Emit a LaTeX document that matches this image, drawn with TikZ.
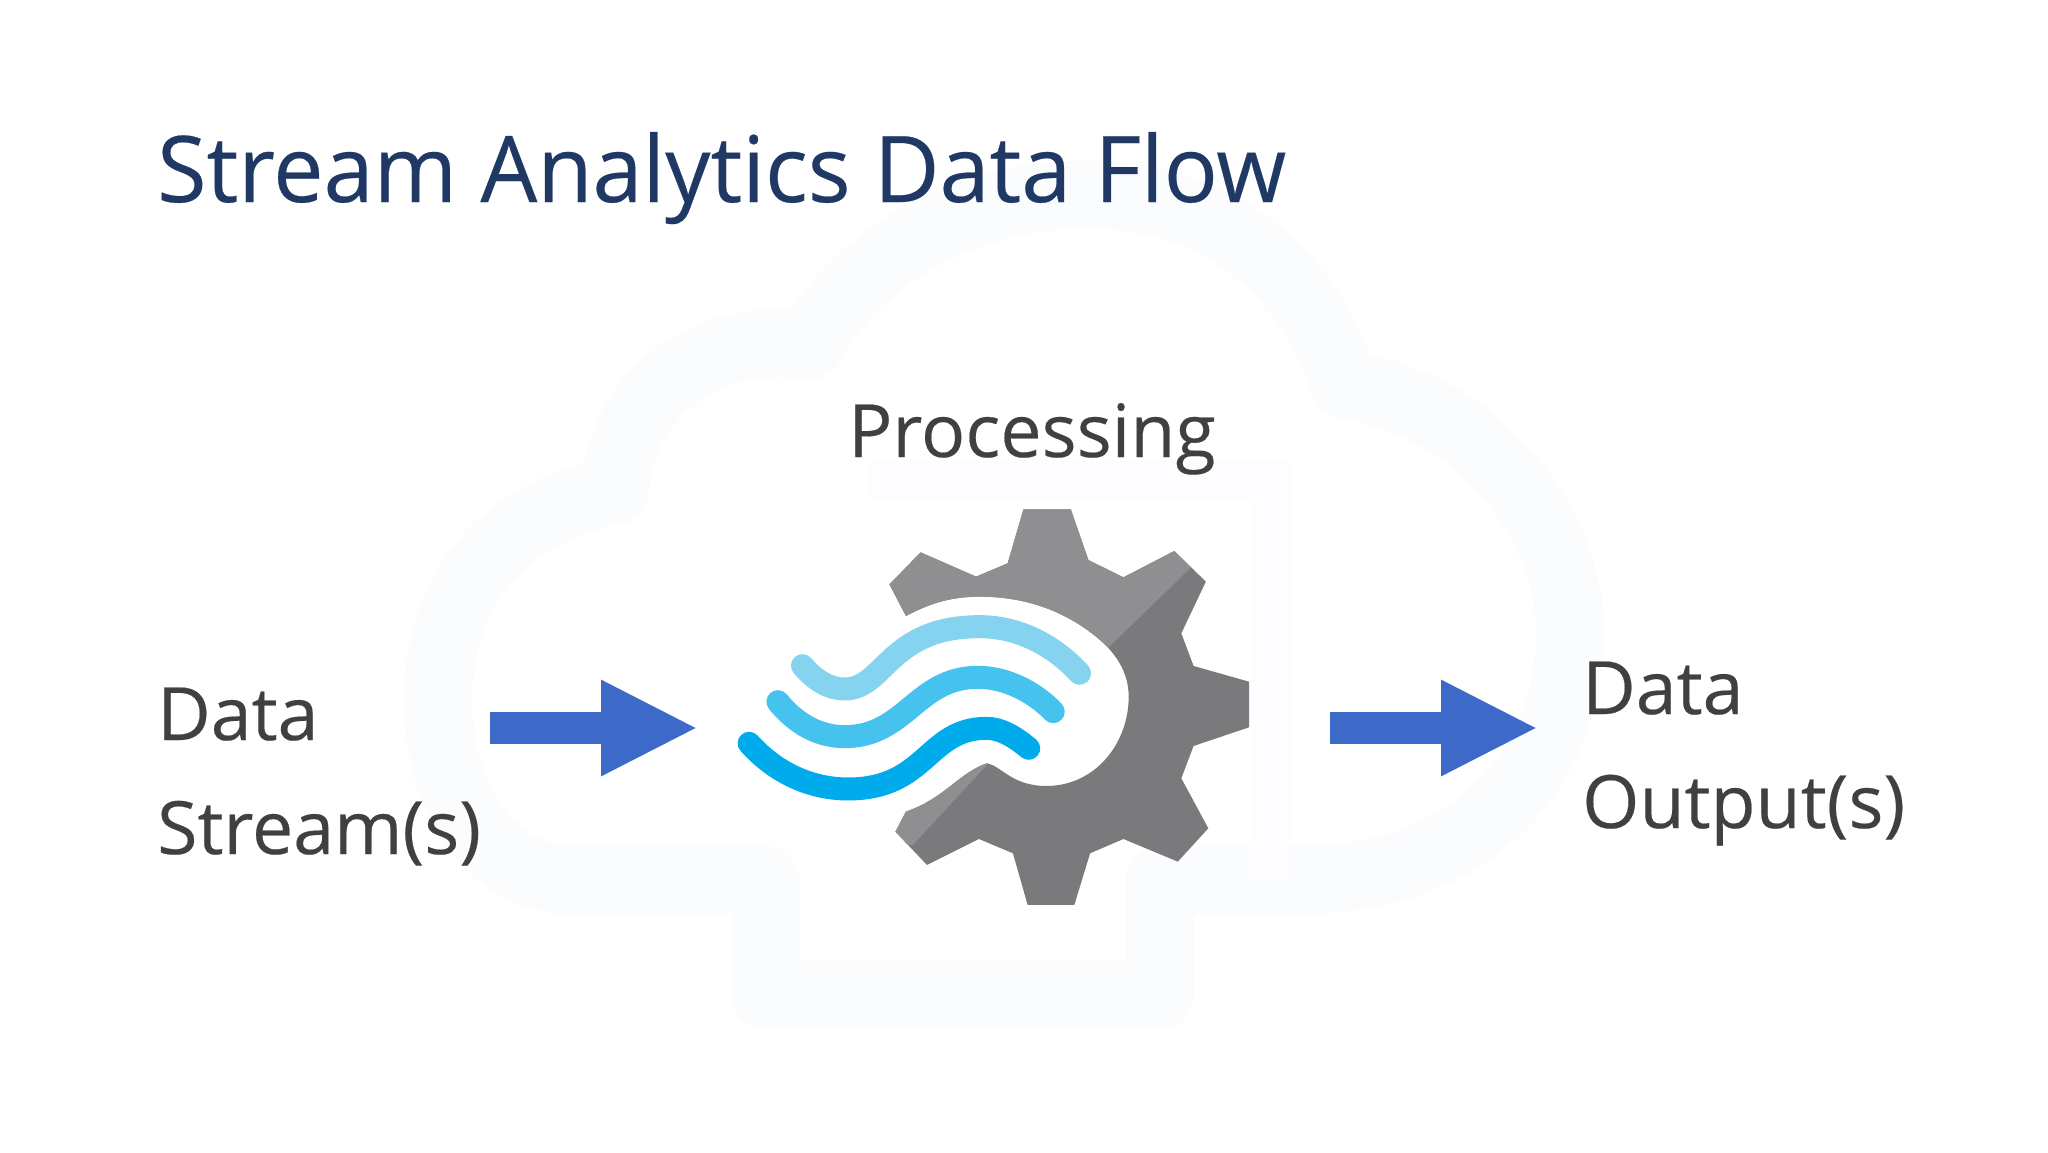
\documentclass[tikz,border=0pt]{standalone}
\usepackage{fontspec}
\setmainfont{Open Sans}
\usetikzlibrary{arrows.meta}
\definecolor{titleblue}{HTML}{1F3864}
\definecolor{labelgrey}{HTML}{404040}
\definecolor{arrowblue}{HTML}{3D69C8}
\definecolor{gearlight}{HTML}{8F8F91}
\definecolor{geardark}{HTML}{7A7A7C}
\definecolor{waveA}{HTML}{86D3EF}
\definecolor{waveB}{HTML}{45C2EE}
\definecolor{waveC}{HTML}{00ABEC}
\definecolor{ghost}{HTML}{FBFCFE}
\definecolor{ghostb}{HTML}{FDFDFF}
\tikzset{
  titletext/.style={anchor=base west,inner sep=0pt,text=titleblue,font=\addfontfeature{FakeStretch=0.977,FakeBold=0.25}\fontsize{92}{92}\selectfont},
  labeltext/.style={anchor=base west,inner sep=0pt,text=labelgrey,font=\addfontfeature{FakeBold=0.25}\fontsize{73.5}{74}\selectfont},
  flowarrow/.style={line width=32pt,draw=arrowblue,-{Triangle[length=97pt,width=89pt]}},
  wave/.style={line width=23pt,line cap=round,line join=round},
  ghostline/.style={draw=ghost,line width=68pt,line join=round}
}
\newcommand{\gearoutline}{
 (865,58)--(1000,58)--(1050,210)--(1150,262)--(1295,183)--(1385,275)--(1315,430)--(1350,528)--(1508,575)--(1508,712)--(1350,768)--(1315,865)--(1392,1015)--(1305,1115)--(1150,1047)--(1055,1090)--(1010,1245)--(877,1245)--(835,1090)--(738,1047)--(590,1125)--(500,1025)--(530,965)
 .. controls (640,925) and (680,850) .. (760,820)
 .. controls (800,825) and (830,888) .. (930,888)
 .. controls (1070,888) and (1165,760) .. (1165,620)
 .. controls (1165,530) and (1110,470) .. (1060,430)
 .. controls (960,350) and (850,320) .. (740,320)
 .. controls (650,320) and (590,345) .. (530,378)
 --(483,283)--(572,187)--(730,260)--(820,220)--cycle}
\begin{document}
\begin{tikzpicture}[x=1pt,y=-1pt]
\useasboundingbox (0,0) rectangle (2048,1152);
\fill[white] (0,0) rectangle (2048,1152);
% faint cloud watermark
\draw[ghostline] (765,880) -- (560,880) .. controls (450,860) and (432,740) .. (440,670)
  .. controls (450,570) and (520,510) .. (615,490)
  .. controls (620,400) and (700,330) .. (810,345)
  .. controls (860,250) and (980,190) .. (1100,195)
  .. controls (1230,200) and (1310,280) .. (1345,385)
  .. controls (1460,400) and (1560,500) .. (1570,620)
  .. controls (1575,760) and (1480,880) .. (1300,880) -- (1160,880)
  -- (1160,995) -- (765,995) -- cycle;
\draw[ghostb,line width=40pt] (870,480) -- (1270,480) -- (1270,880);
% gear
\begin{scope}[shift={(720,490)},x=0.3508pt,y=-0.3333pt]
  \fill[geardark] \gearoutline;
  \begin{scope}
    \clip (0,0) -- (1575,0) -- (1340,235) -- (1110,470) -- (900,700) -- (0,700) -- cycle;
    \fill[gearlight] \gearoutline;
  \end{scope}
  \begin{scope}
    \clip (765,820) -- (550,1065) -- (400,1065) -- (400,800) -- cycle;
    \fill[gearlight] \gearoutline;
  \end{scope}
  \draw[wave,waveA] (235,527) .. controls (270,570) and (310,597) .. (355,597)
     .. controls (470,597) and (480,410) .. (740,410)
     .. controls (860,410) and (960,475) .. (1025,550);
  \draw[wave,waveB] (165,635) .. controls (215,700) and (280,740) .. (355,740)
     .. controls (530,740) and (560,562) .. (735,562)
     .. controls (820,562) and (900,610) .. (950,665);
  \draw[wave,waveC] (83,760) .. controls (160,850) and (260,897) .. (365,897)
     .. controls (590,897) and (590,715) .. (760,715)
     .. controls (800,715) and (840,740) .. (880,775);
\end{scope}
% arrows
\coordinate (inL) at (490,728);
\coordinate (inR) at (698,728);
\coordinate (outL) at (1330,728);
\coordinate (outR) at (1538,728);
\draw[flowarrow] (inL) -- (inR);
\draw[flowarrow] (outL) -- (outR);
% text
\node[titletext] (title) at (157,202) {Stream Analytics Data Flow};
\node[labeltext] (proc) at (848,457) {Processing};
\node[labeltext] (ds1) at (157,740) {Data};
\node[labeltext] (ds2) at (157,854) {Stream(s)};
\node[labeltext] (do1) at (1582,714) {Data};
\node[labeltext] (do2) at (1582,828) {Output(s)};
\end{tikzpicture}
\end{document}
